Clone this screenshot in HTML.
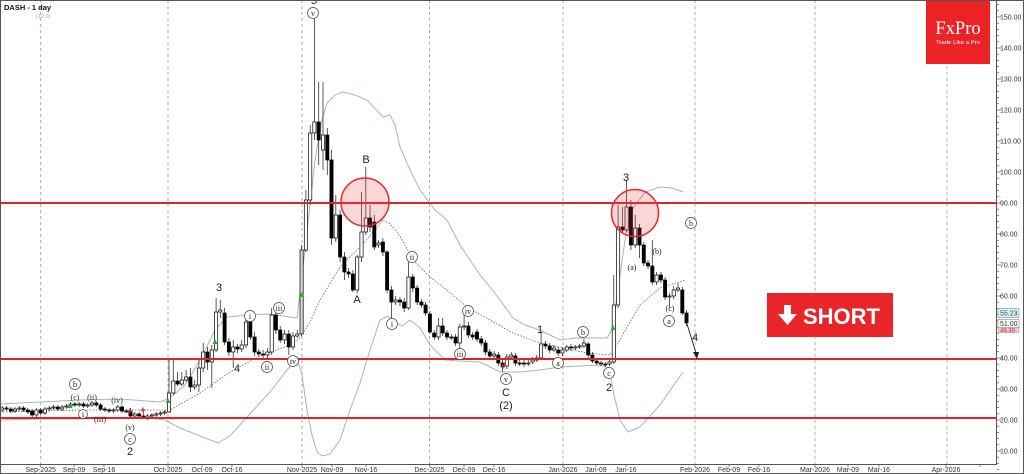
<!DOCTYPE html>
<html><head><meta charset="utf-8">
<style>
html,body{margin:0;padding:0;background:#fff;}
svg{display:block;}
text{font-family:"Liberation Sans",sans-serif;}
.ax{font-size:7px;fill:#333;}
.dt{font-size:7px;fill:#333;text-anchor:middle;}
.lb{font-size:11px;fill:#222;text-anchor:middle;}
.sl{font-family:"Liberation Serif",serif;font-size:8px;fill:#222;text-anchor:middle;}
.cc{fill:#fff;stroke:#444;stroke-width:0.7;}
</style></head>
<body>
<svg id="s" width="1024" height="474" viewBox="0 0 1024 474" xmlns="http://www.w3.org/2000/svg">
<rect x="0" y="0" width="1024" height="474" fill="#fff"/>
<!-- grid -->
<g stroke="#999" stroke-width="0.8" stroke-dasharray="3,3">
<line x1="40.7" y1="0" x2="40.7" y2="464"/>
<line x1="168" y1="0" x2="168" y2="464"/>
<line x1="302" y1="0" x2="302" y2="464"/>
<line x1="429.5" y1="0" x2="429.5" y2="464"/>
<line x1="563" y1="0" x2="563" y2="464"/>
<line x1="695" y1="0" x2="695" y2="464"/>
<line x1="815" y1="0" x2="815" y2="464"/>
<line x1="947" y1="0" x2="947" y2="464"/>
</g>
<g id="bands"></g>
<g id="candles"></g>
<!-- red lines -->
<g stroke="#e4202a" stroke-width="2">
<line x1="0" y1="203" x2="997" y2="203"/>
<line x1="0" y1="359" x2="997" y2="359"/>
<line x1="0" y1="418" x2="997" y2="418"/>
</g>
<!-- red circles -->
<circle cx="365" cy="202" r="24" fill="rgba(238,70,70,0.22)" stroke="#e02a2a" stroke-width="1.5"/>
<circle cx="635" cy="213" r="23.5" fill="rgba(238,70,70,0.22)" stroke="#e02a2a" stroke-width="1.5"/>
<!-- arrow -->
<line x1="687" y1="324" x2="696" y2="353" stroke="#222" stroke-width="0.9"/>
<polygon points="693,352 699,352 697,359" fill="#222"/>
<!-- wave labels -->
<text class="lb" x="219" y="291">3</text>
<text class="lb" x="237" y="372">4</text>
<text class="lb" x="314" y="4">5</text>
<text class="lb" x="366" y="163">B</text>
<text class="lb" x="357" y="303">A</text>
<text class="lb" x="506" y="396">C</text>
<text class="lb" x="506" y="409">(2)</text>
<text class="lb" x="540" y="333">1</text>
<text class="lb" x="626" y="181">3</text>
<text class="lb" x="609" y="391">2</text>
<text class="lb" x="695" y="341">4</text>
<text class="lb" x="130" y="455">2</text>
<!-- circled -->
<g>
<circle class="cc" cx="75" cy="384" r="5.5"/><text class="sl" x="75" y="387">b</text>
<text class="sl" x="75" y="400">(c)</text>
<text class="sl" x="92" y="400">(ii)</text>
<text class="sl" x="117" y="403">(iv)</text>
<circle class="cc" cx="83" cy="414" r="4.5"/><text class="sl" x="83" y="417">i</text>
<text class="sl" x="100" y="422">(iii)</text>
<text class="sl" x="130" y="430">(v)</text>
<circle class="cc" cx="130" cy="439" r="5.5"/><text class="sl" x="130" y="442">c</text>
<circle class="cc" cx="250" cy="316" r="5.5"/><text class="sl" x="250" y="319">i</text>
<circle class="cc" cx="267" cy="367" r="5.5"/><text class="sl" x="267" y="370">ii</text>
<circle class="cc" cx="279" cy="308" r="5.5"/><text class="sl" x="279" y="311">iii</text>
<circle class="cc" cx="293" cy="361" r="5.5"/><text class="sl" x="293" y="364">iv</text>
<circle class="cc" cx="313" cy="13" r="5.5"/><text class="sl" x="313" y="16">v</text>
<circle class="cc" cx="392" cy="324" r="5.5"/><text class="sl" x="392" y="327">i</text>
<circle class="cc" cx="412" cy="257" r="5.5"/><text class="sl" x="412" y="260">ii</text>
<circle class="cc" cx="460" cy="354" r="5.5"/><text class="sl" x="460" y="357">iii</text>
<circle class="cc" cx="468" cy="311" r="5.5"/><text class="sl" x="468" y="314">iv</text>
<circle class="cc" cx="506" cy="379" r="5.5"/><text class="sl" x="506" y="382">v</text>
<circle class="cc" cx="558" cy="363" r="5.5"/><text class="sl" x="558" y="366">a</text>
<circle class="cc" cx="583" cy="332" r="5.5"/><text class="sl" x="583" y="335">b</text>
<circle class="cc" cx="609" cy="373" r="5.5"/><text class="sl" x="609" y="376">c</text>
<text class="sl" x="632" y="270">(a)</text>
<text class="sl" x="657" y="254">(b)</text>
<text class="sl" x="670" y="311">(c)</text>
<circle class="cc" cx="669" cy="321" r="5.5"/><text class="sl" x="669" y="324">a</text>
<circle class="cc" cx="691" cy="223" r="5.5"/><text class="sl" x="691" y="226">b</text>
</g>
<!-- title -->
<text x="4" y="10" style="font-size:7.5px;font-weight:bold;fill:#111">DASH - 1 day</text>
<text x="36" y="18" style="font-size:5.5px;fill:#8aa8a8">(12.0)</text>
<!-- logo -->
<rect x="926" y="0" width="64" height="64" fill="#ec2227"/>
<text x="958" y="34" text-anchor="middle" style="font-family:'Liberation Serif',serif;font-size:18.5px;fill:#fff">FxPro</text>
<text x="958" y="44" text-anchor="middle" textLength="44" lengthAdjust="spacingAndGlyphs" style="font-size:5.8px;fill:#fff">Trade Like a Pro</text>
<!-- SHORT -->
<rect x="767" y="293" width="126" height="44" fill="#e8262a"/>
<polygon points="784,305 791,305 791,314 797,314 787.5,325 778,314 784,314" fill="#fff"/>
<text x="803" y="324" style="font-size:22px;font-weight:bold;fill:#fff">SHORT</text>
<!-- axes -->
<rect x="997" y="0" width="27" height="474" fill="#fff"/>
<rect x="0" y="464.5" width="1024" height="10" fill="#fff"/>
<line x1="996.5" y1="0" x2="996.5" y2="465" stroke="#555" stroke-width="1"/>
<line x1="0" y1="464.5" x2="997" y2="464.5" stroke="#555" stroke-width="1"/>
<g id="ticks" stroke="#555" stroke-width="0.7"></g>
<g class="ax">
<text x="1000" y="19.5">150.00</text>
<text x="1000" y="50.5">140.00</text>
<text x="1000" y="81.5">130.00</text>
<text x="1000" y="112.5">120.00</text>
<text x="1000" y="143.5">110.00</text>
<text x="1000" y="174.5">100.00</text>
<text x="1000" y="205.5">90.00</text>
<text x="1000" y="236.5">80.00</text>
<text x="1000" y="267.5">70.00</text>
<text x="1000" y="298.5">60.00</text>
<text x="1000" y="360.5">40.00</text>
<text x="1000" y="391.5">30.00</text>
<text x="1000" y="422.5">20.00</text>
<text x="1000" y="453.5">10.00</text>
</g>
<rect x="998" y="308.5" width="21" height="9" fill="#dcecf0" stroke="#6a9aa8" stroke-width="0.6"/>
<text x="1000" y="315.5" class="ax" style="fill:#356">55.23</text>
<rect x="998" y="319.5" width="21" height="8" fill="#fff" stroke="#888" stroke-width="0.6"/>
<text x="1000" y="326" class="ax">51.00</text>
<rect x="998" y="327.5" width="21" height="5" fill="#f2c8c8" stroke="#c88" stroke-width="0.5"/>
<text x="1000" y="332.5" class="ax" style="fill:#a33;font-size:6px">49.30</text>
<g class="dt">
<text x="40.7" y="472">Sep-2025</text>
<text x="74" y="472">Sep-09</text>
<text x="104" y="472">Sep-16</text>
<text x="168" y="472">Oct-2025</text>
<text x="202" y="472">Oct-09</text>
<text x="232" y="472">Oct-16</text>
<text x="302" y="472">Nov-2025</text>
<text x="332" y="472">Nov-09</text>
<text x="366" y="472">Nov-16</text>
<text x="429.5" y="472">Dec-2025</text>
<text x="464" y="472">Dec-09</text>
<text x="494" y="472">Dec-16</text>
<text x="563" y="472">Jan-2026</text>
<text x="596" y="472">Jan-09</text>
<text x="626" y="472">Jan-16</text>
<text x="695" y="472">Feb-2026</text>
<text x="729" y="472">Feb-09</text>
<text x="759" y="472">Feb-16</text>
<text x="815" y="472">Mar-2026</text>
<text x="848" y="472">Mar-09</text>
<text x="879" y="472">Mar-16</text>
<text x="946" y="472">Apr-2026</text>
</g>
<!-- frame -->
<rect x="0.5" y="0.5" width="1023" height="473" fill="none" stroke="#555" stroke-width="1"/>
</svg>
<script>
(function(){
var D=[[410,408],[408,409],[409,411],[411,409],[409,408],[408,410],[410,412],[411,415],[415,410],
[410,413],[413,409],[409,408],[408,407],[407,409],[409,407],[407,406],[406,404],[404,405],[405,404],
[404,406],[406,405],[405,403],[403,405],[405,409],[409,410],[410,411],[411,410],[410,407],[407,411],
[411,411],[411,416,408,418],[416,414],[414,416],[416,418,409,419],[418,416],[416,415],[415,414],[414,413],[413,412],
[412,393,358,413],[393,381,360,395],[381,384,372,386],[384,380,372,386],[380,377,370,382],[377,387,368,392],[387,385,380,390],
[385,368,358,392],[368,352,343,372],[352,362,347,370],[362,350,345,388],[350,312,298,352],[312,310,300,318],[313,342,308,345],
[342,352,338,356],[352,347,340,368],[347,349,344,353],[349,345,340,352],[345,322,315,348],[322,337,318,340],[337,352,332,356],
[352,354,349,357],[354,355,350,358],[355,352,348,358],[352,315,308,355],[315,330,312,334],[330,340,326,343],[340,334,330,344],
[334,347,330,355],[347,336,332,350],[336,334,330,338],[334,250,245,336],[250,200,190,252],[200,133,125,205],[133,122,18,140],
[122,140,82,165],[150,135,82,170],[135,160,128,175],[160,238,150,245],[238,215,195,242],[215,257,210,262],[257,272,252,280],
[272,274,268,278],[274,290,270,292],[290,257,255,293],[257,232,192,262],[232,218,167,235],[218,227,205,232],[222,247,215,250],
[245,243,240,248],[242,252,238,256],[252,290,250,293],[290,302,286,318],[302,300,296,305],[300,302,297,306],[302,308,298,312],
[308,277,262,310],[277,288,274,292],[288,302,285,305],[302,305,299,308],[305,313,302,316],[314,332,311,334],[333,337,330,340],
[337,326,318,340],[326,333,318,336],[333,337,330,340],[337,337,334,340],[337,343,334,346],[343,327,324,350],[327,326,315,330],
[326,335,322,338],[335,337,332,340],[332,339,329,342],[339,343,336,346],[343,352,340,355],[352,356,349,358],[356,354,351,358],
[355,363,352,366],[363,367,360,372],[366,357,354,369],[357,355,352,360],[356,363,353,366],[363,363,360,366],[363,364,360,367],
[364,363,360,366],[362,360,357,364],[360,358,355,362],[358,344,332,360],[344,346,341,349],[346,350,343,353],[350,348,345,352],
[350,353,347,356],[353,350,347,356],[350,347,345,352],[347,348,344,351],[348,347,345,350],[347,346,344,349],[346,343,339,348],
[344,355,342,358],[355,361,352,363],[361,363,358,365],[363,364,361,366],[364,365,362,367],[364,362,360,366],[362,305,275,364],
[305,227,205,308],[227,230,207,234],[230,207,180,232],[207,245,200,250],[245,228,215,248],[228,245,224,258],[245,263,242,266],
[263,266,260,269],[266,282,240,285],[282,275,272,285],[275,280,272,283],[280,297,277,300],[297,296,293,308],[296,290,286,299],
[290,288,283,292],[290,313,287,315],[313,323,310,326]];
var h='';
for(var i=0;i<D.length;i++){
 var c=D[i],d=i-9,x=40.7+4.277*d,o=c[0],cl=c[1],hi=c[2],lo=c[3];
 if(hi===undefined){hi=Math.min(o,cl)-2;lo=Math.max(o,cl)+2;}
 h+='<line x1="'+x.toFixed(1)+'" y1="'+hi+'" x2="'+x.toFixed(1)+'" y2="'+lo+'" stroke="#333" stroke-width="0.8"/>';
 var top=Math.min(o,cl),bh=Math.max(Math.abs(o-cl),1);
 var fill=cl<o?'#fff':'#000';
 if(d===61)fill='#d4d4d4';
 h+='<rect x="'+(x-1.6).toFixed(1)+'" y="'+top+'" width="3.2" height="'+bh+'" fill="'+fill+'" stroke="#000" stroke-width="0.7"/>';
}
var G=[[70,406],[168,401],[215,342],[302,295],[613,328]];
G.forEach(function(p){h+='<polygon points="'+(p[0]-2.5)+','+(p[1]+2)+' '+(p[0]+2.5)+','+(p[1]+2)+' '+p[0]+','+(p[1]-3)+'" fill="#3a3"/>';});
var R=[[130,411],[143,410],[503,366]];
R.forEach(function(p){h+='<path d="M'+(p[0]-2.5)+' '+p[1]+'h5M'+p[0]+' '+(p[1]-2.5)+'v5" stroke="#d22" stroke-width="1.2"/>';});
document.getElementById('candles').innerHTML=h;
var U=[[0,404],[40,402],[80,400],[120,399],[160,402],[170,398],[185,385],[200,360],[215,330],[227,317],[250,315],[270,314],[297,318],[305,250],[315,160],[322,120],[327,103],[335,95],[343,92],[355,95],[367,100],[383,117],[390,115],[395,125],[400,147],[410,170],[420,190],[435,210],[447,220],[460,245],[470,260],[480,275],[490,287],[500,300],[513,318],[525,325],[540,330],[550,335],[560,340],[575,338],[587,338],[607,338],[612,330],[618,290],[625,240],[632,210],[645,192],[660,187],[672,188],[683,192]];
var L=[[0,420],[40,419],[80,419],[120,418],[150,418],[165,420],[180,428],[200,436],[218,443],[230,436],[247,417],[270,392],[287,370],[297,358],[302,375],[307,410],[312,435],[317,452],[322,456],[330,454],[340,440],[350,410],[360,383],[370,350],[380,320],[388,316],[395,322],[402,326],[410,320],[420,328],[430,345],[445,360],[460,361],[480,362],[500,372],[520,372],[540,370],[560,367],[580,366],[600,365],[609,368],[614,395],[620,420],[628,432],[640,427],[660,405],[683,372]];
var M=[[0,412],[80,410],[160,410],[170,410],[200,393],[230,372],[260,356],[290,345],[300,338],[310,322],[320,300],[340,267],[360,247],[375,230],[383,220],[390,224],[398,233],[405,245],[413,260],[430,277],[447,290],[467,307],[490,320],[513,333],[540,343],[563,348],[587,353],[610,355],[620,340],[627,327],[640,305],[660,288],[685,280]];
function pl(a){return a.map(function(p){return p[0]+','+p[1];}).join(' ');}
var b='<polyline points="'+pl(U)+'" fill="none" stroke="#9dbdb4" stroke-width="1"/>';
b+='<polyline points="'+pl(L)+'" fill="none" stroke="#9dbdb4" stroke-width="1"/>';
b+='<polyline points="'+pl(M)+'" fill="none" stroke="#666" stroke-width="0.8" stroke-dasharray="1.5,1.5"/>';
document.getElementById('bands').innerHTML=b;
var t='';
for(var v=4;v<=154;v+=2){var y=482-3.1*v;var len=(v%10===0)?4:2;t+='<line x1="997" y1="'+y.toFixed(1)+'" x2="'+(997+len)+'" y2="'+y.toFixed(1)+'"/>';}
[40.7,74,104,168,202,232,302,332,366,429.5,464,494,563,596,626,695,729,759,815,848,879,946,980].forEach(function(x){t+='<line x1="'+x+'" y1="464" x2="'+x+'" y2="467"/>';});
document.getElementById('ticks').innerHTML=t;
})();
</script>
</body></html>
